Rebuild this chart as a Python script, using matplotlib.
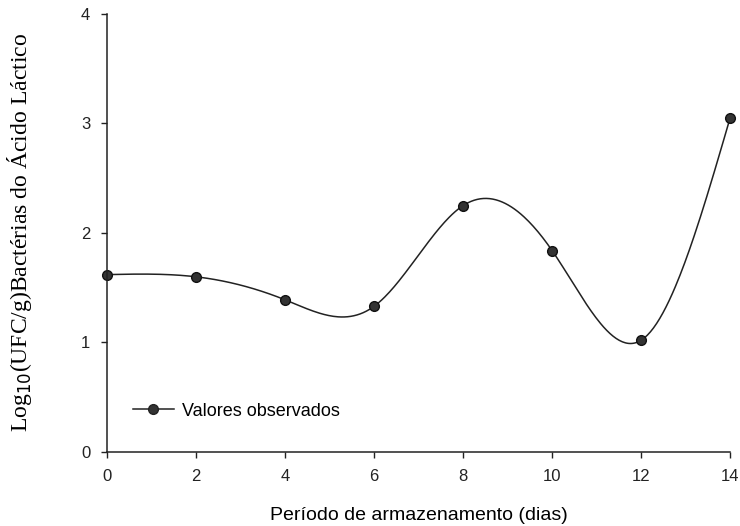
import numpy as np
import matplotlib.pyplot as plt

# storage period (days) and observed log10 counts
dias = [0, 2, 4, 6, 8, 10, 12, 14]
log_ufc = [1.62, 1.60, 1.39, 1.33, 2.25, 1.84, 1.02, 3.05]


def natural_spline(x, y, xs):
    # natural cubic spline through the points, used only for the smooth line
    x = np.asarray(x, float)
    y = np.asarray(y, float)
    n = len(x)
    h = np.diff(x)
    A = np.zeros((n, n))
    b = np.zeros(n)
    A[0, 0] = 1
    A[-1, -1] = 1
    for i in range(1, n - 1):
        A[i, i - 1] = h[i - 1]
        A[i, i] = 2 * (h[i - 1] + h[i])
        A[i, i + 1] = h[i]
        b[i] = 3 * ((y[i + 1] - y[i]) / h[i] - (y[i] - y[i - 1]) / h[i - 1])
    c = np.linalg.solve(A, b)
    out = np.empty_like(xs)
    for k, t in enumerate(xs):
        i = min(np.searchsorted(x, t, side="right") - 1, n - 2)
        i = max(i, 0)
        bi = (y[i + 1] - y[i]) / h[i] - h[i] * (2 * c[i] + c[i + 1]) / 3
        di = (c[i + 1] - c[i]) / (3 * h[i])
        dx = t - x[i]
        out[k] = y[i] + bi * dx + c[i] * dx ** 2 + di * dx ** 3
    return out


fig = plt.figure(figsize=(7.4, 5.26), dpi=100)
ax = fig.add_axes([0.1446, 0.1407, 0.842, 0.8327])

xs = np.linspace(dias[0], dias[-1], 400)
ax.plot(xs, natural_spline(dias, log_ufc, xs), color="#222222", lw=1.1)
ax.plot(dias, log_ufc, "o", color="#333333", mec="#111111", ms=7, clip_on=False)

# empty line only for the legend entry
ax.plot([], [], "-o", color="#222222", mfc="#333333", ms=7, lw=1.1, label="Valores observados")
ax.legend(loc="lower left", bbox_to_anchor=(0.015, 0.037), frameon=False,
          handlelength=2.3, handletextpad=0.45,
          prop={"family": "Liberation Sans", "size": 13})

ax.set_xlim(0, 14)
ax.set_ylim(0, 4)
ax.set_xticks(range(0, 15, 2))
ax.set_yticks(range(0, 5))
for s in ["top", "right"]:
    ax.spines[s].set_visible(False)
for s in ["left", "bottom"]:
    ax.spines[s].set_linewidth(1.1)
    ax.spines[s].set_color("#222222")
ax.tick_params(direction="out", length=4, width=1, colors="#222222", labelsize=12, pad=8)
for lab in ax.get_xticklabels() + ax.get_yticklabels():
    lab.set_family("Liberation Sans")

ax.set_xlabel("Período de armazenamento (dias)", family="Liberation Sans", fontsize=14, labelpad=17)
ax.set_ylabel("Log$_{10}$(UFC/g)Bactérias do Ácido Láctico", family="Liberation Serif",
              fontsize=17, labelpad=34)

fig.savefig("out.png", dpi=100)
